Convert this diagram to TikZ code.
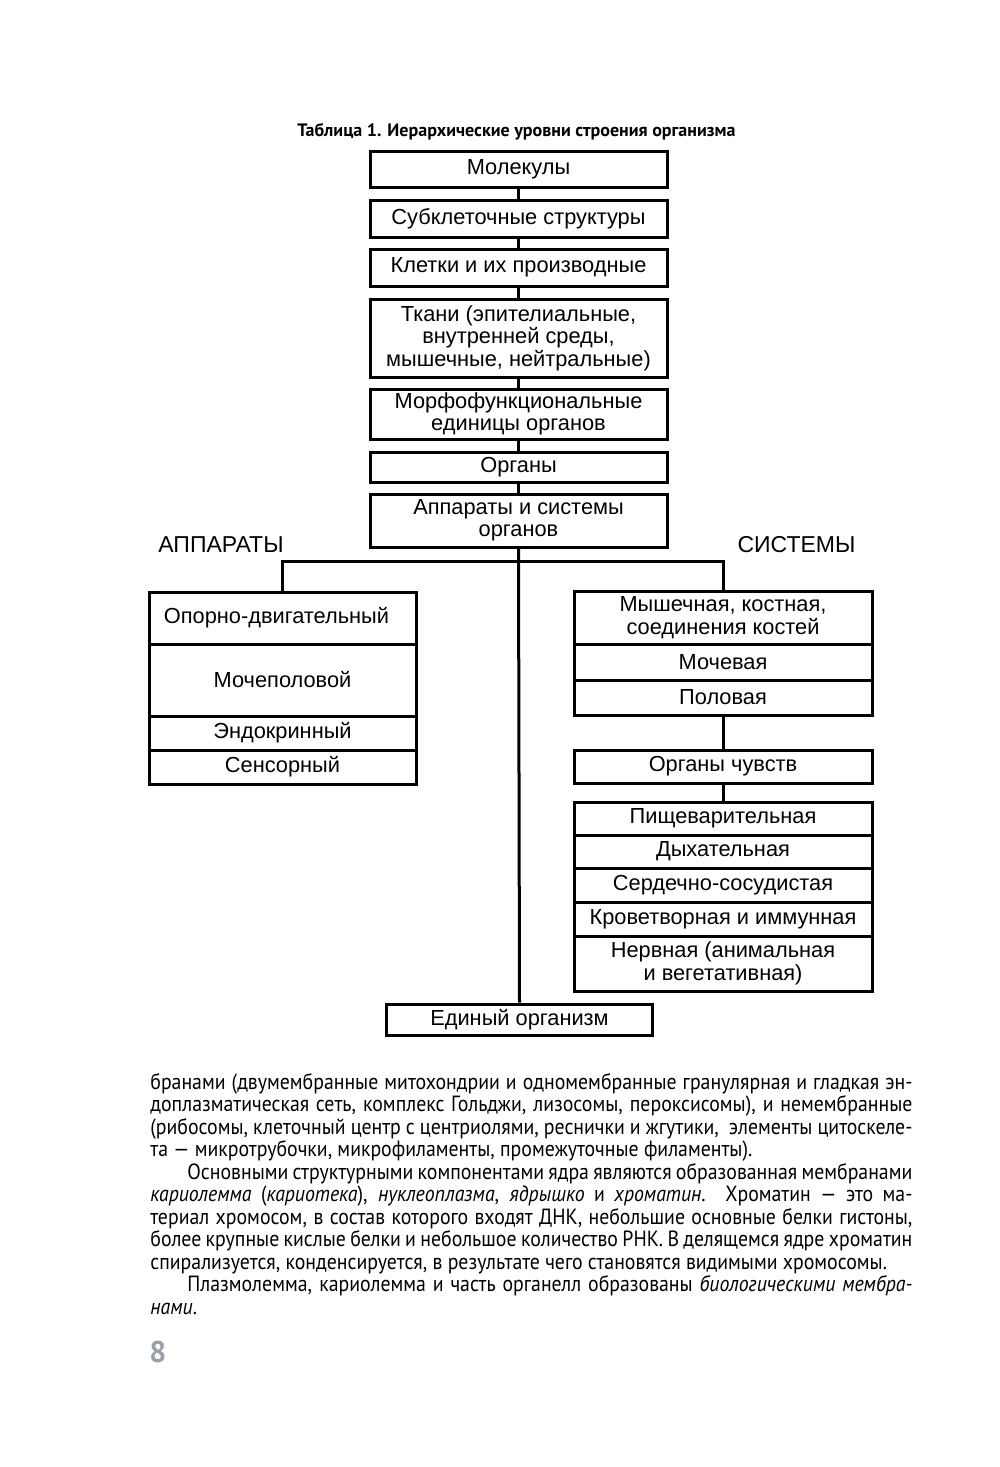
\documentclass[tikz,border=0pt]{standalone}
\usepackage{fontspec}
\setmainfont{Liberation Sans}
\newfontfamily\bodyfont[FakeStretch=0.9]{PT Sans}
\newfontfamily\titlefont{PT Sans}
\definecolor{pnum}{RGB}{150,160,166}
\newcommand{\boxfont}{\fontsize{10.9}{11.2}\selectfont}
\newcommand{\txtfont}{\bodyfont\fontsize{11}{12}\selectfont}
\newcommand{\jline}[1]{\makebox[381pt][s]{#1}}
\begin{document}
\begin{tikzpicture}[x=0.5pt,y=-0.5pt,
  box/.style={draw, line width=1.5pt, inner sep=0pt, align=center, font=\boxfont},
  conn/.style={line width=1.5pt},
  lbl/.style={font=\fontsize{11.5}{12}\selectfont, inner sep=0pt},
  bodyline/.style={anchor=base west, inner sep=0pt, font=\txtfont}]
\fill[white] (0,0) rectangle (1000,1467);
\useasboundingbox (0,0) rectangle (1000,1467);

% title
\node[anchor=base, inner sep=0pt, font=\titlefont\bfseries\fontsize{9}{10}\selectfont] (title) at (516.5,136) {Таблица 1. Иерархические уровни строения организма};

% main column
\node[box, minimum width=148.5pt, minimum height=18pt] (mol) at (518.5,169) {Молекулы};
\node[box, minimum width=148.5pt, minimum height=18.5pt] (sub) at (518.5,218.5) {Субклеточные структуры};
\node[box, minimum width=148.5pt, minimum height=18.5pt] (cel) at (518.5,267.5) {Клетки и их производные};
\node[box, minimum width=148.5pt, minimum height=39pt] (tis) at (518.5,338) {Ткани (эпителиальные,\\внутренней среды,\\мышечные, нейтральные)};
\node[box, minimum width=148.5pt, minimum height=25pt] (mor) at (518.5,414) {Морфофункциональные\\единицы органов};
\node[box, minimum width=148.5pt, minimum height=15pt] (org) at (518.5,467) {Органы};
\node[box, minimum width=148.5pt, minimum height=26.5pt] (app) at (518.5,520.5) {Аппараты и системы\\органов};

\draw[conn] (mol) -- (sub);
\draw[conn] (sub) -- (cel);
\draw[conn] (cel) -- (tis);
\draw[conn] (tis) -- (mor);
\draw[conn] (mor) -- (org);
\draw[conn] (org) -- (app);

\node[lbl] (lap) at (221,545) {АППАРАТЫ};
\node[lbl] (lsy) at (796.5,545) {СИСТЕМЫ};

% left group
\node[box, minimum width=133.5pt, minimum height=26pt] (ap1) at (282.5,618) {Опорно-двигательный\hspace*{6pt}};
\node[box, minimum width=133.5pt, minimum height=36pt] (ap2) at (282.5,680) {Мочеполовой};
\node[box, minimum width=133.5pt, minimum height=17pt] (ap3) at (282.5,733) {Эндокринный};
\node[box, minimum width=133.5pt, minimum height=17pt] (ap4) at (282.5,767) {Сенсорный};

% right groups
\node[box, minimum width=149pt, minimum height=26.5pt] (sy1) at (723,617.5) {Мышечная, костная,\\соединения костей};
\node[box, minimum width=149pt, minimum height=18pt] (sy2) at (723,662) {Мочевая};
\node[box, minimum width=149pt, minimum height=17.5pt] (sy3) at (723,697.5) {Половая};
\node[box, minimum width=149pt, minimum height=16.5pt] (sen) at (723,766.5) {Органы чувств};
\node[box, minimum width=149pt, minimum height=16.5pt] (sy4) at (723,818.5) {Пищеварительная};
\node[box, minimum width=149pt, minimum height=16.5pt] (sy5) at (723,851.5) {Дыхательная};
\node[box, minimum width=149pt, minimum height=17pt] (sy6) at (723,885) {Сердечно-сосудистая};
\node[box, minimum width=149pt, minimum height=17pt] (sy7) at (723,919) {Кроветворная и иммунная};
\node[box, minimum width=149pt, minimum height=27.5pt] (sy8) at (723,963.5) {Нервная (анимальная\\и вегетативная)};

% bottom
\node[box, minimum width=133pt, minimum height=15.5pt] (uni) at (519.5,1019.5) {Единый организм};

% connectors
\coordinate (jn) at (518.5,561);
\draw[conn] (app.south) -- (uni.north);
\draw[conn] (ap1.north) -- (ap1.north |- jn) -- (sy1.north |- jn) -- (sy1.north);
\draw[conn] (sy3.south) -- (sen.north);
\draw[conn] (sen.south) -- (sy4.north);

% body text
\node[bodyline] (t1) at (150,1089) {\jline{бранами (двумембранные митохондрии и одномембранные гранулярная и гладкая эн-}};
\node[bodyline] (t2) at (150,1111.5) {\jline{доплазматическая сеть, комплекс Гольджи, лизосомы, пероксисомы), и немембранные}};
\node[bodyline] (t3) at (150,1134) {\jline{(рибосомы, клеточный центр с центриолями, реснички и жгутики,\ \ элементы цитоскеле-}};
\node[bodyline] (t4) at (150,1156.5) {та — микротрубочки, микрофиламенты, промежуточные филаменты).};
\node[bodyline] (t5) at (187,1179) {\makebox[362.5pt][s]{Основными структурными компонентами ядра являются образованная мембранами}};
\node[bodyline] (t6) at (150,1201.5) {\jline{\textit{кариолемма} (\textit{кариотека}), \textit{нуклеоплазма}, \textit{ядрышко} и \textit{хроматин}. Хроматин — это ма-}};
\node[bodyline] (t7) at (150,1224) {\jline{териал хромосом, в состав которого входят ДНК, небольшие основные белки гистоны,}};
\node[bodyline] (t8) at (150,1246.5) {\jline{более крупные кислые белки и небольшое количество РНК. В делящемся ядре хроматин}};
\node[bodyline] (t9) at (150,1269) {спирализуется, конденсируется, в результате чего становятся видимыми хромосомы.};
\node[bodyline] (t10) at (187,1291.5) {\makebox[362.5pt][s]{Плазмолемма, кариолемма и часть органелл образованы \textit{биологическими мембра-}}};
\node[bodyline] (t11) at (150,1314) {\textit{нами}.};

% page number
\node[anchor=base west, inner sep=0pt, text=pnum, font=\titlefont\bfseries\fontsize{15}{16}\selectfont] (pg) at (149,1362) {8};
\end{tikzpicture}
\end{document}
